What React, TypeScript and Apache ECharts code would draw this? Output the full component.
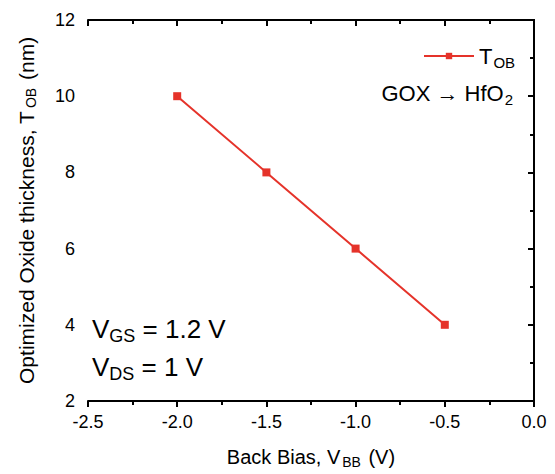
import React, { useEffect, useRef } from "react";
import * as echarts from "echarts";

const backBias = [-2.0, -1.5, -1.0, -0.5];
const tob = [10, 8, 6, 4];
const xRange = [-2.5, 0];
const yRange = [2, 12];

const FONT = "Liberation Sans, Arial, sans-serif";
const RED = "#e5332a";

export default function App() {
  const ref = useRef<HTMLDivElement>(null);
  useEffect(() => {
    const chart = echarts.init(ref.current!, null, { renderer: "svg" });
    const axisCommon = {
      axisLine: { lineStyle: { color: "#000", width: 2 } },
      splitLine: { show: false },
    };
    const tickOut = { show: true, length: 6, lineStyle: { width: 2, color: "#000" } };
    const tickIn = { show: true, inside: true, length: 6, lineStyle: { width: 2, color: "#000" } };
    const minor = { show: true, splitNumber: 2, length: 4, lineStyle: { width: 2, color: "#000" } };
    chart.setOption({
      animation: false,
      grid: { left: 88, right: 21, top: 20, bottom: 70 },
      legend: {
        data: ["T"],
        left: 418,
        top: 40,
        itemWidth: 50,
        itemHeight: 8,
        formatter: () => "{a|T}{b|OB}",
        textStyle: {
          rich: {
            a: { fontSize: 22, fontFamily: FONT, color: "#000" },
            b: { fontSize: 15, fontFamily: FONT, color: "#000", padding: [12, 0, 0, 1] },
          },
        },
      },
      xAxis: [
        {
          type: "value",
          min: xRange[0],
          max: xRange[1],
          interval: 0.5,
          ...axisCommon,
          axisTick: tickOut,
          minorTick: minor,
          axisLabel: {
            fontSize: 18,
            fontFamily: FONT,
            color: "#000",
            margin: 12,
            formatter: (v: number) => v.toFixed(1),
          },
          name: "{n|Back Bias, V}{s|BB}{n| (V)}",
          nameLocation: "middle",
          nameGap: 44,
          nameTextStyle: {
            rich: {
              n: { fontSize: 20, fontFamily: FONT, color: "#000" },
              s: { fontSize: 14, fontFamily: FONT, color: "#000", padding: [10, 2, 0, 2] },
            },
          },
        },
        {
          type: "value",
          position: "top",
          min: xRange[0],
          max: xRange[1],
          interval: 0.5,
          ...axisCommon,
          axisTick: tickIn,
          minorTick: minor,
          axisLabel: { show: false },
        },
      ],
      yAxis: [
        {
          type: "value",
          min: yRange[0],
          max: yRange[1],
          interval: 2,
          ...axisCommon,
          axisTick: tickOut,
          minorTick: minor,
          axisLabel: { fontSize: 18, fontFamily: FONT, color: "#000", margin: 13 },
          name: "{n|Optimized Oxide thickness, T}{s|OB}{n| (nm)}",
          nameLocation: "middle",
          nameGap: 50,
          nameTextStyle: {
            rich: {
              n: { fontSize: 21, fontFamily: FONT, color: "#000" },
              s: { fontSize: 14, fontFamily: FONT, color: "#000", padding: [10, 2, 0, 3] },
            },
          },
        },
        {
          type: "value",
          position: "right",
          min: yRange[0],
          max: yRange[1],
          interval: 2,
          ...axisCommon,
          axisTick: tickIn,
          minorTick: minor,
          axisLabel: { show: false },
        },
      ],
      series: [
        {
          name: "T",
          type: "line",
          data: backBias.map((x, i) => [x, tob[i]]),
          symbol: "rect",
          symbolSize: 8,
          itemStyle: { color: RED },
          lineStyle: { color: RED, width: 2 },
        },
      ],
      graphic: [
        {
          type: "text",
          right: 42,
          top: 82,
          style: {
            text: "{a|GOX → HfO}{b|2}",
            rich: {
              a: { fontSize: 22, fontFamily: FONT, fill: "#000" },
              b: { fontSize: 15, fontFamily: FONT, fill: "#000", padding: [12, 0, 0, 1] },
            },
          },
        },
        {
          type: "text",
          left: 92,
          top: 316,
          style: {
            text: "{a|V}{b|GS}{a| = 1.2 V}",
            rich: {
              a: { fontSize: 26, fontFamily: FONT, fill: "#000" },
              b: { fontSize: 18, fontFamily: FONT, fill: "#000", padding: [14, 0, 0, 0] },
            },
          },
        },
        {
          type: "text",
          left: 92,
          top: 354,
          style: {
            text: "{a|V}{b|DS}{a| = 1 V}",
            rich: {
              a: { fontSize: 26, fontFamily: FONT, fill: "#000" },
              b: { fontSize: 18, fontFamily: FONT, fill: "#000", padding: [14, 0, 0, 0] },
            },
          },
        },
      ],
    });
    return () => chart.dispose();
  }, []);
  return (
    <div
      ref={ref}
      style={{ position: "absolute", left: 0, top: 0, width: 555, height: 474, background: "#fff" }}
    />
  );
}
